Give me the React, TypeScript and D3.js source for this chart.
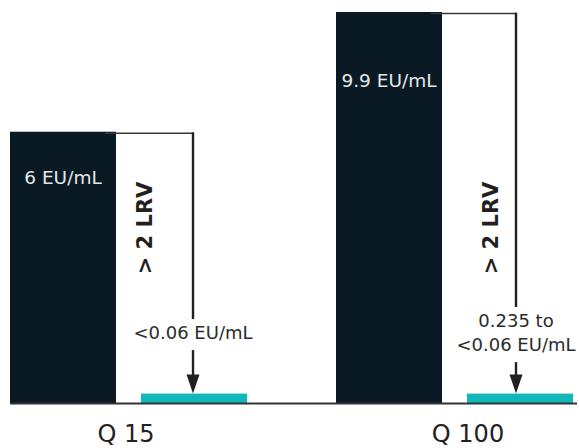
import React from "react";
import * as d3 from "d3";

const categories = ["Q 15", "Q 100"];
const beforeValues = [6, 9.9];
const afterValues = [0.06, 0.06];
const beforeLabels = ["6 EU/mL", "9.9 EU/mL"];
const afterLabels = [["<0.06 EU/mL"], ["0.235 to", "<0.06 EU/mL"]];
const reductionLabels = ["> 2 LRV", "> 2 LRV"];
const series = ["before", "after"];

const W = 579;
const H = 448;
const DARK = "#0a1a24";
const TEAL = "#10b8b9";
const INK = "#231f20";
const FONT = "'DejaVu Sans', sans-serif";

export default function App() {
  const x0 = d3.scaleBand<string>().domain(categories).range([10, 573]).paddingInner(0.273).paddingOuter(0);
  const x1 = d3.scaleBand<string>().domain(series).range([0, x0.bandwidth()]).paddingInner(0.191).paddingOuter(0);
  const maxV = d3.max(beforeValues) as number;
  const y = d3.scalePow().exponent(0.73).domain([0, maxV]).range([403, 12]);
  const base = y(0);

  return (
    <svg width={W} height={H} style={{ position: "absolute", left: 0, top: 0, background: "#fff" }}>
      {categories.map((c, i) => {
        const gx = x0(c) as number;
        const bx = gx + (x1("before") as number);
        const ax = gx + (x1("after") as number);
        const bw = x1.bandwidth();
        const bTop = y(beforeValues[i]);
        const aTop = y(afterValues[i]);
        const lineX = ax + bw / 2 - (i === 0 ? 1 : 4);
        const lines = afterLabels[i];
        const center = aTop - 61;
        const firstBase = center - (lines.length - 1) * 12 + 6.5;
        const lastBase = firstBase + (lines.length - 1) * 24;
        const arrowStart = lastBase + 11;
        const tip = aTop;
        const lrvX = ax + (i === 0 ? 4 : 24);
        return (
          <g key={c}>
            <rect x={bx} y={bTop} width={bw} height={base - bTop} fill={DARK} />
            <rect x={ax} y={aTop} width={bw} height={base - aTop} fill={TEAL} />
            <text
              x={bx + bw / 2}
              y={y(beforeValues[i] * 0.748)}
              textAnchor="middle"
              fontFamily={FONT}
              fontSize={18.5}
              fill="#e4e7e9"
            >
              {beforeLabels[i]}
            </text>
            <line x1={bx + bw - 11} x2={lineX + 1} y1={bTop + 1.5} y2={bTop + 1.5} stroke="#3a3a3a" strokeWidth={1.6} />
            <line x1={lineX} x2={lineX} y1={bTop + 0.7} y2={firstBase - 20} stroke={INK} strokeWidth={2.4} />
            {lines.map((t, k) => (
              <text
                key={k}
                x={lineX}
                y={firstBase + k * 24}
                textAnchor="middle"
                fontFamily={FONT}
                fontSize={18}
                fill="#2b2b2b"
              >
                {t}
              </text>
            ))}
            <line x1={lineX} x2={lineX} y1={arrowStart} y2={tip - 17} stroke={INK} strokeWidth={2.4} />
            <path d={`M${lineX - 6.5},${tip - 19} L${lineX + 6.5},${tip - 19} L${lineX},${tip} Z`} fill={INK} />
            <text
              transform={`translate(${lrvX},228) rotate(-90)`}
              textAnchor="middle"
              dominantBaseline="central"
              fontFamily={FONT}
              fontWeight="bold"
              fontSize={21}
              fill={INK}
            >
              {reductionLabels[i]}
            </text>
            <text
              x={i === 0 ? gx + 116 : gx + 132}
              y={442}
              textAnchor="middle"
              fontFamily={FONT}
              fontSize={24}
              fill="#222"
            >
              {c}
            </text>
          </g>
        );
      })}
      <line x1={10} x2={577} y1={403.5} y2={403.5} stroke="#333" strokeWidth={2} />
    </svg>
  );
}
